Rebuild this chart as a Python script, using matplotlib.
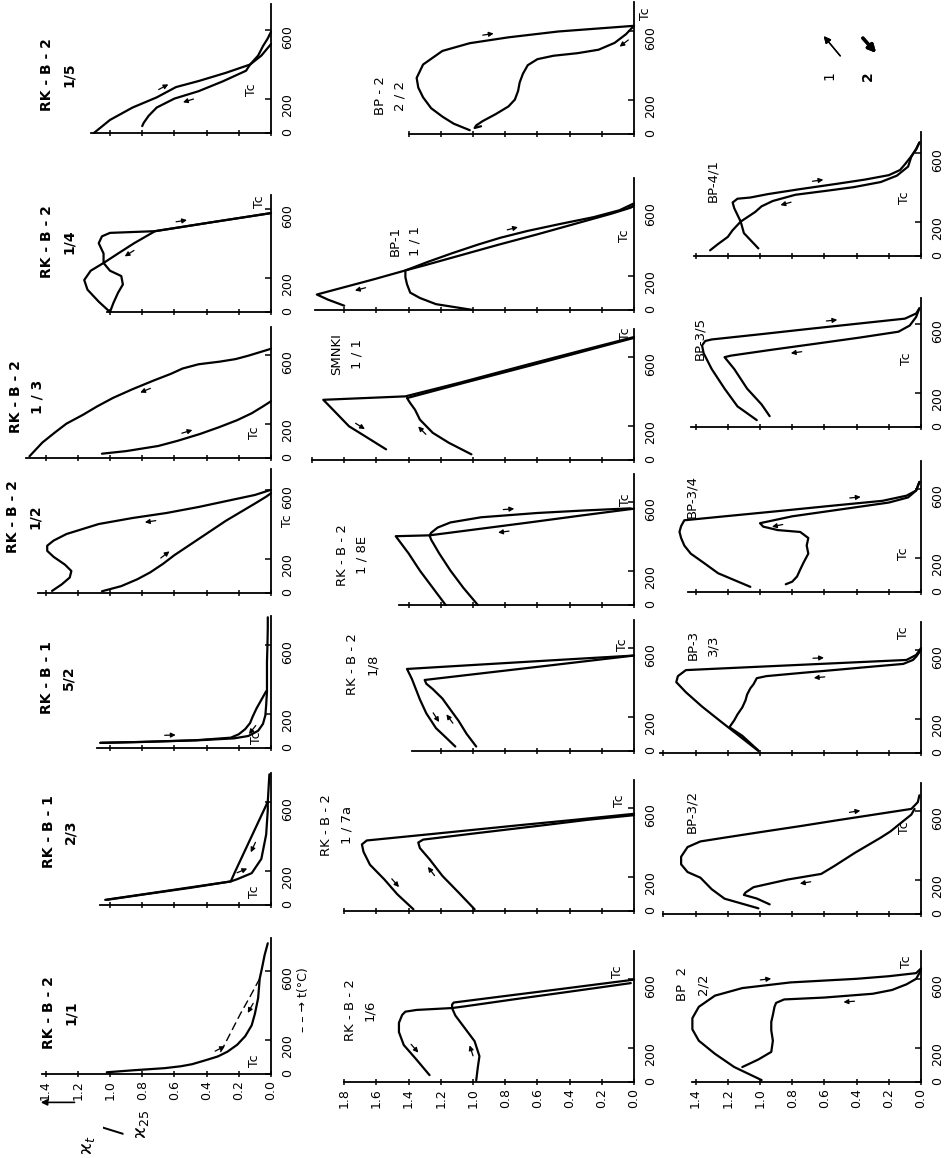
import numpy as np
import matplotlib.pyplot as plt

plt.rcParams['font.family'] = ['DejaVu Sans']

# ---------------------------------------------------------------------------
# Data: t [deg C] and kappa_t / kappa_25
# _h_ = heating run, _c_ = cooling run (listed from hot to cold)
# ---------------------------------------------------------------------------
# RK-B-2 1/5
rkb2_15_h_t = [0, 76, 148, 207, 267, 302, 350, 398, 450, 505, 550, 588]
rkb2_15_h_k = [1.10, 1.00, 0.86, 0.71, 0.59, 0.45, 0.28, 0.13, 0.08, 0.05, 0.02, 0.0]
rkb2_15_c_t = [517, 450, 398, 362, 300, 243, 200, 148, 100, 60, 40]
rkb2_15_c_k = [0.0, 0.06, 0.13, 0.155, 0.30, 0.45, 0.60, 0.71, 0.76, 0.79, 0.80]
# RK-B-2 1/4
rkb2_14_h_t = [0, 60, 130, 186, 240, 285, 340, 400, 440, 460, 470, 520, 575]
rkb2_14_h_k = [1.0, 1.07, 1.14, 1.16, 1.12, 1.04, 1.04, 1.07, 1.05, 1.0, 0.72, 0.38, 0.0]
rkb2_14_c_t = [575, 520, 470, 400, 340, 285, 240, 209, 160, 112, 50, 0]
rkb2_14_c_k = [0.0, 0.38, 0.72, 0.85, 0.95, 1.04, 1.0, 0.93, 0.92, 0.95, 0.98, 1.0]
# RK-B-2 1/3
rkb2_13_h_t = [25, 40, 70, 100, 140, 180, 220, 260, 300, 330]
rkb2_13_h_k = [1.05, 0.90, 0.70, 0.58, 0.44, 0.32, 0.21, 0.12, 0.05, 0.0]
rkb2_13_c_t = [635, 615, 595, 575, 560, 545, 520, 490, 450, 400, 350, 300, 250, 200, 150, 90, 40, 10]
rkb2_13_c_k = [0.0, 0.07, 0.14, 0.22, 0.32, 0.45, 0.55, 0.62, 0.73, 0.86, 0.98, 1.08, 1.17, 1.27, 1.34, 1.42, 1.47, 1.50]
# RK-B-2 1/2
rkb2_12_h_t = [10, 40, 80, 120, 170, 220, 270, 320, 370, 420, 470, 520, 560, 580]
rkb2_12_h_k = [1.05, 0.93, 0.83, 0.75, 0.67, 0.60, 0.52, 0.44, 0.36, 0.28, 0.19, 0.10, 0.03, 0.0]
rkb2_12_c_t = [600, 570, 540, 500, 465, 436, 401, 343, 305, 275, 245, 210, 165, 128, 90, 50, 12]
rkb2_12_c_k = [0.0, 0.10, 0.25, 0.45, 0.65, 0.86, 1.07, 1.27, 1.35, 1.39, 1.39, 1.35, 1.28, 1.24, 1.25, 1.30, 1.36]
# RK-B-1 5/2
rkb1_52_h_t = [30, 35, 45, 56, 70, 100, 140, 190, 250, 330, 400, 500, 600, 700, 760]
rkb1_52_h_k = [1.06, 0.80, 0.45, 0.23, 0.14, 0.08, 0.05, 0.035, 0.03, 0.025, 0.025, 0.025, 0.022, 0.02, 0.02]
rkb1_52_c_t = [330, 280, 230, 180, 145, 110, 80, 60, 45, 35, 30]
rkb1_52_c_k = [0.03, 0.06, 0.09, 0.115, 0.13, 0.16, 0.20, 0.25, 0.47, 0.82, 1.06]
# RK-B-1 2/3
rkb1_23_h_t = [30, 60, 100, 137, 150, 185, 268, 410, 552, 600, 680, 760]
rkb1_23_h_k = [1.02, 0.80, 0.50, 0.25, 0.21, 0.12, 0.06, 0.03, 0.02, 0.02, 0.015, 0.01]
rkb1_23_c_t = [600, 500, 400, 300, 200, 137, 100, 60, 30]
rkb1_23_c_k = [0.02, 0.07, 0.12, 0.17, 0.22, 0.25, 0.52, 0.81, 1.03]
# RK-B-2 1/1
rkb2_11_h_t = [10, 22, 34, 45, 57, 79, 102, 130, 170, 220, 283, 350, 441, 555, 620, 690, 760]
rkb2_11_h_k = [1.02, 0.85, 0.66, 0.56, 0.49, 0.41, 0.33, 0.27, 0.21, 0.16, 0.12, 0.10, 0.08, 0.07, 0.055, 0.04, 0.02]
rkb2_11_c_t = [555, 450, 350, 250, 150, 102]
rkb2_11_c_k = [0.07, 0.13, 0.19, 0.245, 0.30, 0.33]
# BP-2 2/2 (middle row)
bp2_22a_h_t = [22, 60, 101, 150, 213, 270, 326, 404, 483, 528, 562, 596, 629]
bp2_22a_h_k = [1.02, 1.12, 1.19, 1.26, 1.31, 1.34, 1.35, 1.31, 1.19, 1.02, 0.78, 0.47, 0.0]
bp2_22a_c_t = [629, 580, 530, 490, 470, 455, 435, 400, 350, 300, 250, 200, 160, 115, 75, 50, 35, 45]
bp2_22a_c_k = [0.0, 0.05, 0.12, 0.22, 0.35, 0.50, 0.60, 0.66, 0.69, 0.71, 0.72, 0.74, 0.78, 0.86, 0.94, 0.98, 0.99, 0.95]
# BP-1 1/1
bp1_11_h_t = [0, 34, 70, 101, 150, 191, 230, 280, 330, 380, 420, 460, 500, 540, 580, 620]
bp1_11_h_k = [1.0, 1.23, 1.33, 1.39, 1.41, 1.42, 1.42, 1.28, 1.13, 0.97, 0.83, 0.66, 0.46, 0.25, 0.09, 0.0]
bp1_11_c_t = [610, 595, 560, 500, 440, 380, 320, 260, 230, 180, 130, 90, 60, 25]
bp1_11_c_k = [0.0, 0.02, 0.14, 0.37, 0.60, 0.84, 1.07, 1.30, 1.42, 1.61, 1.81, 1.97, 1.90, 1.80]
# SMNKI 1/1
smnk_11_h_t = [33, 100, 158, 235, 292, 331, 360, 450, 550, 650, 710]
smnk_11_h_k = [1.01, 1.15, 1.25, 1.33, 1.36, 1.39, 1.41, 1.05, 0.64, 0.24, 0.0]
smnk_11_c_t = [715, 650, 550, 450, 370, 350, 312, 196, 138, 62]
smnk_11_c_k = [0.0, 0.27, 0.68, 1.08, 1.42, 1.93, 1.89, 1.77, 1.67, 1.54]
# RK-B-2 1/8E
rkb2_18e_h_t = [0, 100, 200, 300, 380, 405, 420, 450, 480, 510, 535, 550, 562]
rkb2_18e_h_k = [0.97, 1.06, 1.14, 1.21, 1.26, 1.27, 1.26, 1.22, 1.14, 0.95, 0.60, 0.30, 0.02]
rkb2_18e_c_t = [560, 520, 480, 440, 405, 400, 300, 200, 100, 0]
rkb2_18e_c_k = [0.0, 0.33, 0.65, 0.98, 1.27, 1.48, 1.40, 1.33, 1.25, 1.17]
# RK-B-2 1/8
rkb2_18_h_t = [26, 100, 176, 240, 305, 360, 391, 413, 450, 500, 555]
rkb2_18_h_k = [0.98, 1.04, 1.09, 1.14, 1.19, 1.25, 1.29, 1.30, 0.96, 0.50, 0.0]
rkb2_18_c_t = [555, 530, 500, 477, 420, 348, 300, 219, 133, 80, 26]
rkb2_18_c_k = [0.0, 0.46, 1.00, 1.41, 1.38, 1.35, 1.33, 1.29, 1.23, 1.17, 1.11]
# RK-B-2 1/7a
rkb2_17a_h_t = [10, 108, 204, 301, 366, 398, 415, 450, 500, 530, 557]
rkb2_17a_h_k = [0.99, 1.09, 1.19, 1.27, 1.33, 1.34, 1.31, 1.00, 0.55, 0.29, 0.0]
rkb2_17a_c_t = [565, 530, 500, 450, 410, 387, 344, 269, 183, 97, 10]
rkb2_17a_c_k = [0.0, 0.37, 0.70, 1.23, 1.66, 1.69, 1.68, 1.64, 1.55, 1.47, 1.37]
# RK-B-2 1/6
rkb2_16_h_t = [10, 86, 150, 237, 312, 387, 430, 450, 462, 500, 540, 570, 595]
rkb2_16_h_k = [0.98, 0.97, 0.96, 0.99, 1.05, 1.11, 1.13, 1.13, 1.12, 0.80, 0.46, 0.21, 0.0]
rkb2_16_c_t = [575, 550, 520, 480, 440, 430, 419, 409, 390, 344, 290, 215, 129, 40]
rkb2_16_c_k = [0.02, 0.21, 0.44, 0.75, 1.05, 1.13, 1.35, 1.42, 1.44, 1.46, 1.46, 1.43, 1.35, 1.27]
# BP-4/1
bp41_h_t = [44, 133, 200, 278, 311, 333, 340, 360, 389, 420, 444, 470, 500, 533, 580, 622, 660]
bp41_h_k = [1.01, 1.10, 1.12, 1.16, 1.17, 1.14, 1.06, 0.95, 0.75, 0.52, 0.35, 0.20, 0.13, 0.10, 0.06, 0.03, 0.01]
bp41_c_t = [660, 620, 578, 520, 467, 430, 400, 380, 356, 320, 289, 256, 200, 150, 111, 70, 33]
bp41_c_k = [0.01, 0.03, 0.06, 0.08, 0.15, 0.25, 0.42, 0.58, 0.78, 0.92, 0.99, 1.03, 1.12, 1.17, 1.20, 1.26, 1.31]
# BP-3/5
bp35_h_t = [40, 120, 223, 337, 429, 474, 500, 509, 540, 570, 600, 630, 660, 690]
bp35_h_k = [1.02, 1.14, 1.22, 1.30, 1.35, 1.36, 1.34, 1.30, 0.99, 0.70, 0.40, 0.10, 0.03, 0.01]
bp35_c_t = [690, 640, 590, 554, 520, 486, 450, 415, 406, 383, 337, 223, 131, 63]
bp35_c_k = [0.01, 0.03, 0.07, 0.14, 0.38, 0.64, 0.92, 1.18, 1.22, 1.20, 1.16, 1.08, 0.99, 0.94]
# BP-3/4
bp34_h_t = [30, 109, 170, 223, 270, 314, 350, 383, 417, 440, 470, 500, 530, 560, 590, 640]
bp34_h_k = [1.06, 1.26, 1.35, 1.43, 1.47, 1.49, 1.50, 1.49, 1.47, 1.22, 0.89, 0.57, 0.24, 0.09, 0.03, 0.01]
bp34_c_t = [640, 590, 550, 520, 480, 440, 400, 380, 360, 349, 314, 270, 223, 170, 131, 90, 60, 45]
bp34_c_k = [0.01, 0.03, 0.08, 0.20, 0.50, 0.80, 1.00, 0.98, 0.89, 0.75, 0.70, 0.71, 0.70, 0.73, 0.75, 0.77, 0.80, 0.84]
# BP-3 3/3
bp3_33_h_t = [12, 100, 188, 270, 353, 412, 447, 482, 495, 510, 525, 541, 570, 610]
bp3_33_h_k = [1.01, 1.13, 1.25, 1.36, 1.46, 1.52, 1.51, 1.46, 1.16, 0.81, 0.46, 0.09, 0.03, 0.0]
bp3_33_c_t = [600, 560, 541, 518, 500, 484, 465, 447, 435, 400, 376, 340, 306, 265, 224, 190, 150, 100, 40, 15]
bp3_33_c_k = [0.0, 0.03, 0.05, 0.11, 0.33, 0.52, 0.75, 0.96, 1.02, 1.04, 1.06, 1.08, 1.09, 1.11, 1.14, 1.16, 1.19, 1.11, 1.04, 1.01]
# BP-3/2
bp32_h_t = [33, 89, 144, 211, 244, 289, 333, 389, 422, 444, 480, 511, 545, 578, 611, 650, 690]
bp32_h_k = [1.01, 1.22, 1.30, 1.37, 1.45, 1.49, 1.49, 1.45, 1.37, 1.22, 0.97, 0.75, 0.52, 0.29, 0.06, 0.02, 0.01]
bp32_c_t = [611, 578, 533, 480, 444, 400, 356, 320, 278, 233, 200, 156, 125, 111, 90, 56]
bp32_c_k = [0.04, 0.06, 0.12, 0.19, 0.25, 0.33, 0.41, 0.47, 0.54, 0.62, 0.83, 1.04, 1.09, 1.10, 1.02, 0.94]
# BP 2 2/2 (bottom row)
bp2_22c_h_t = [11, 87, 164, 240, 306, 371, 437, 502, 546, 579, 600, 615, 633, 660]
bp2_22c_h_k = [0.99, 1.16, 1.28, 1.38, 1.42, 1.42, 1.38, 1.28, 1.11, 0.81, 0.40, 0.20, 0.03, 0.0]
bp2_22c_c_t = [650, 600, 568, 535, 513, 491, 480, 460, 437, 390, 349, 300, 240, 175, 131, 100, 87]
bp2_22c_c_k = [0.0, 0.03, 0.09, 0.18, 0.30, 0.60, 0.85, 0.90, 0.91, 0.92, 0.93, 0.93, 0.92, 0.93, 1.01, 1.08, 1.11]

T_TICKS = [0, 200, 600]

# ---------------------------------------------------------------------------
# Page geometry (the plate is printed turned by 90 degrees)
# ---------------------------------------------------------------------------
W_PX, H_PX = 949, 1158
K_PX = 161.0      # px per unit of kappa ratio
T_PX = 0.172      # px per deg C
T_BOX = 800
COL_X0 = {'A': 271, 'B': 634, 'C': 921}     # x of the kappa = 0 line
COL_KLIM = {'A': 1.6, 'B': 2.1, 'C': 1.7}

# title, column, y of t=0 line, kappa axis length, t axis length,
# heat, cool, title centre (px), Tc label (kappa, t), arrow segment (heat, cool)
panels = [
    ('RK - B - 2\n1/5', 'A', 133, 1.12, 750, (rkb2_15_h_t, rkb2_15_h_k), (rkb2_15_c_t, rkb2_15_c_k), (58, 75), (0.12, 250), (3, 5)),
    ('RK - B - 2\n1/4', 'A', 312, 1.02, 680, (rkb2_14_h_t, rkb2_14_h_k), (rkb2_14_c_t, rkb2_14_c_k), (58, 242), (0.07, 640), (10, 3)),
    ('RK - B - 2\n1 / 3', 'A', 458, 1.52, 760, (rkb2_13_h_t, rkb2_13_h_k), (rkb2_13_c_t, rkb2_13_c_k), (27, 397), (0.10, 150), (3, 8)),
    ('RK - B - 2\n1/2', 'A', 593, 1.45, 720, (rkb2_12_h_t, rkb2_12_h_k), (rkb2_12_c_t, rkb2_12_c_k), (24, 517), (-0.10, 420), (4, 4)),
    ('RK - B - 1\n5/2', 'A', 748, 1.08, 770, (rkb1_52_h_t, rkb1_52_h_k), (rkb1_52_c_t, rkb1_52_c_k), (58, 678), (0.09, 60), (1, 4)),
    ('RK - B - 1\n2/3', 'A', 905, 1.06, 770, (rkb1_23_h_t, rkb1_23_h_k), (rkb1_23_c_t, rkb1_23_c_k), (60, 832), (0.10, 80), (4, 2)),
    ('RK - B - 2\n1/1', 'A', 1074, 1.42, 790, (rkb2_11_h_t, rkb2_11_h_k), (rkb2_11_c_t, rkb2_11_c_k), (60, 1013), (0.10, 75), (6, 1)),
    ('BP - 2\n2 / 2', 'B', 134, 1.40, 770, (bp2_22a_h_t, bp2_22a_h_k), (bp2_22a_c_t, bp2_22a_c_k), (390, 96), (-0.07, 700), (9, 1)),
    ('BP-1\n1 / 1', 'B', 310, 1.98, 770, (bp1_11_h_t, bp1_11_h_k), (bp1_11_c_t, bp1_11_c_k), (405, 241), (0.06, 430), (10, 9)),
    ('SMNKI\n1 / 1', 'B', 460, 2.0, 760, (smnk_11_h_t, smnk_11_h_k), (smnk_11_c_t, smnk_11_c_k), (347, 354), (0.05, 735), (2, 7)),
    ('RK - B - 2\n1 / 8E', 'B', 605, 1.46, 760, (rkb2_18e_h_t, rkb2_18e_h_k), (rkb2_18e_c_t, rkb2_18e_c_k), (352, 555), (0.05, 610), (9, 2)),
    ('RK - B - 2\n1/8', 'B', 751, 1.38, 760, (rkb2_18_h_t, rkb2_18_h_k), (rkb2_18_c_t, rkb2_18_c_k), (363, 664), (0.07, 620), (2, 7)),
    ('RK - B - 2\n1 / 7a', 'B', 911, 1.80, 760, (rkb2_17a_h_t, rkb2_17a_h_k), (rkb2_17a_c_t, rkb2_17a_c_k), (337, 825), (0.09, 640), (2, 8)),
    ('RK - B - 2\n1/6', 'B', 1082, 1.80, 760, (rkb2_16_h_t, rkb2_16_h_k), (rkb2_16_c_t, rkb2_16_c_k), (360, 1010), (0.10, 640), (2, 11)),
    ('BP-4/1', 'C', 256, 1.41, 720, (bp41_h_t, bp41_h_k), (bp41_c_t, bp41_c_k), (713, 180), (0.10, 340), (8, 8)),
    ('BP-3/5', 'C', 427, 1.43, 750, (bp35_h_t, bp35_h_k), (bp35_c_t, bp35_c_k), (700, 338), (0.09, 400), (9, 5)),
    ('BP-3/4', 'C', 592, 1.45, 760, (bp34_h_t, bp34_h_k), (bp34_c_t, bp34_c_k), (692, 497), (0.11, 220), (11, 5)),
    ('BP-3\n3/3', 'C', 753, 1.62, 760, (bp3_33_h_t, bp3_33_h_k), (bp3_33_c_t, bp3_33_c_k), (703, 645), (0.11, 700), (9, 5)),
    ('BP-3/2', 'C', 914, 1.60, 760, (bp32_h_t, bp32_h_k), (bp32_c_t, bp32_c_k), (692, 811), (0.10, 500), (12, 9)),
    ('BP  2\n2/2', 'C', 1082, 1.42, 760, (bp2_22c_h_t, bp2_22c_h_k), (bp2_22c_c_t, bp2_22c_c_k), (693, 984), (0.09, 700), (8, 4)),
]
LABELLED = {'RK - B - 2\n1/1', 'RK - B - 2\n1/6', 'BP  2\n2/2'}
DASHED_COOL = {'RK - B - 2\n1/1'}

fig = plt.figure(figsize=(W_PX / 100, H_PX / 100), dpi=100)


def along_arrow(ax, t, k, i, length=11.0, offset=6.0):
    # small arrow beside segment i -> i+1, pointing in the run direction
    p0 = ax.transData.transform((k[i], t[i]))
    p1 = ax.transData.transform((k[i + 1], t[i + 1]))
    d = p1 - p0
    d = d / np.hypot(d[0], d[1])
    n = np.array([-d[1], d[0]])
    mid = (p0 + p1) / 2 + n * offset
    inv = ax.transData.inverted()
    ax.annotate('', xy=inv.transform(mid + d * length / 2),
                xytext=inv.transform(mid - d * length / 2), annotation_clip=False,
                arrowprops=dict(arrowstyle='-|>', color='k', lw=0.9,
                                mutation_scale=7, shrinkA=0, shrinkB=0))


axes = {}
for (title, col, y0, kax, tax, heat, cool, tpos, tc, arr) in panels:
    x0, klim = COL_X0[col], COL_KLIM[col]
    ax = fig.add_axes([(x0 - klim * K_PX) / W_PX, (H_PX - y0) / H_PX,
                       klim * K_PX / W_PX, T_BOX * T_PX / H_PX])
    ax.set_xlim(klim, 0)
    ax.set_ylim(0, T_BOX)
    ax.patch.set_alpha(0)
    ax.spines['left'].set_visible(False)
    ax.spines['top'].set_visible(False)
    ax.spines['bottom'].set_bounds(0, kax)
    ax.spines['right'].set_bounds(0, tax)
    ax.spines['bottom'].set_linewidth(1.3)
    ax.spines['right'].set_linewidth(1.3)
    ax.yaxis.tick_right()
    kt = np.arange(0, kax + 1e-9, 0.2)
    ax.set_xticks(kt)
    ax.set_yticks(T_TICKS)
    ax.set_yticklabels([str(v) for v in T_TICKS])
    if title in LABELLED:
        ax.set_xticklabels([f'{v:.1f}' for v in kt])
    else:
        ax.set_xticklabels([])
    ax.tick_params(axis='x', direction='inout', length=5, width=1.1,
                   labelsize=9, labelrotation=90, pad=2)
    ax.tick_params(axis='y', direction='in', length=4, width=1.1,
                   labelsize=9, labelrotation=90, pad=7)

    ax.plot(heat[1], heat[0], color='k', lw=1.6, solid_joinstyle='round',
            solid_capstyle='round', clip_on=False)
    if title in DASHED_COOL:
        ax.plot(cool[1], cool[0], color='k', lw=1.0, ls=(0, (6, 3)), clip_on=False)
    else:
        ax.plot(cool[1], cool[0], color='k', lw=1.6, solid_joinstyle='round',
                solid_capstyle='round', clip_on=False)
    along_arrow(ax, heat[0], heat[1], arr[0])
    along_arrow(ax, cool[0], cool[1], arr[1])

    ax.text(tc[0], tc[1], 'Tc', rotation=90, fontsize=9, ha='center', va='center')
    bold = col == 'A'
    fig.text(tpos[0] / W_PX, 1 - tpos[1] / H_PX, title, rotation=90,
             fontsize=10 if bold else 9.5, fontweight='bold' if bold else 'normal',
             ha='center', va='center', multialignment='center', linespacing=1.7)
    axes[title] = ax

# axis caption at the first panel
ax11 = axes['RK - B - 2\n1/1']
ax11.annotate('', xy=(1.43, -165), xytext=(1.22, -165), annotation_clip=False,
              arrowprops=dict(arrowstyle='-|>', color='k', lw=1.2, mutation_scale=9,
                              shrinkA=0, shrinkB=0))
fig.text(88 / W_PX, 1 - 1145 / H_PX, r'ϰ$_t$', rotation=90, fontsize=13, ha='center', va='center')
fig.text(114 / W_PX, 1 - 1130 / H_PX, '/', rotation=90, fontsize=18, ha='center', va='center')
fig.text(142 / W_PX, 1 - 1124 / H_PX, r'ϰ$_{25}$', rotation=90, fontsize=13, ha='center', va='center')
fig.text(304 / W_PX, 1 - 1000 / H_PX, '– – → t(°C)', rotation=90, fontsize=9, ha='center', va='center')

# legend: 1 = heating, 2 = cooling
fig.text(829 / W_PX, 1 - 76 / H_PX, '1', rotation=90, fontsize=10, ha='center', va='center')
fig.text(868 / W_PX, 1 - 76 / H_PX, '2', rotation=90, fontsize=10, ha='center', va='center',
         fontweight='bold')
fig.add_artist(plt.annotate('', xy=(822, H_PX - 34), xytext=(842, H_PX - 58),
                            xycoords='figure pixels', textcoords='figure pixels',
                            arrowprops=dict(arrowstyle='-|>', color='k', lw=1.0, mutation_scale=10)))
fig.add_artist(plt.annotate('', xy=(878, H_PX - 55), xytext=(861, H_PX - 36),
                            xycoords='figure pixels', textcoords='figure pixels',
                            arrowprops=dict(arrowstyle='-|>', color='k', lw=2.4, mutation_scale=11)))

fig.savefig('out.png', dpi=100)
